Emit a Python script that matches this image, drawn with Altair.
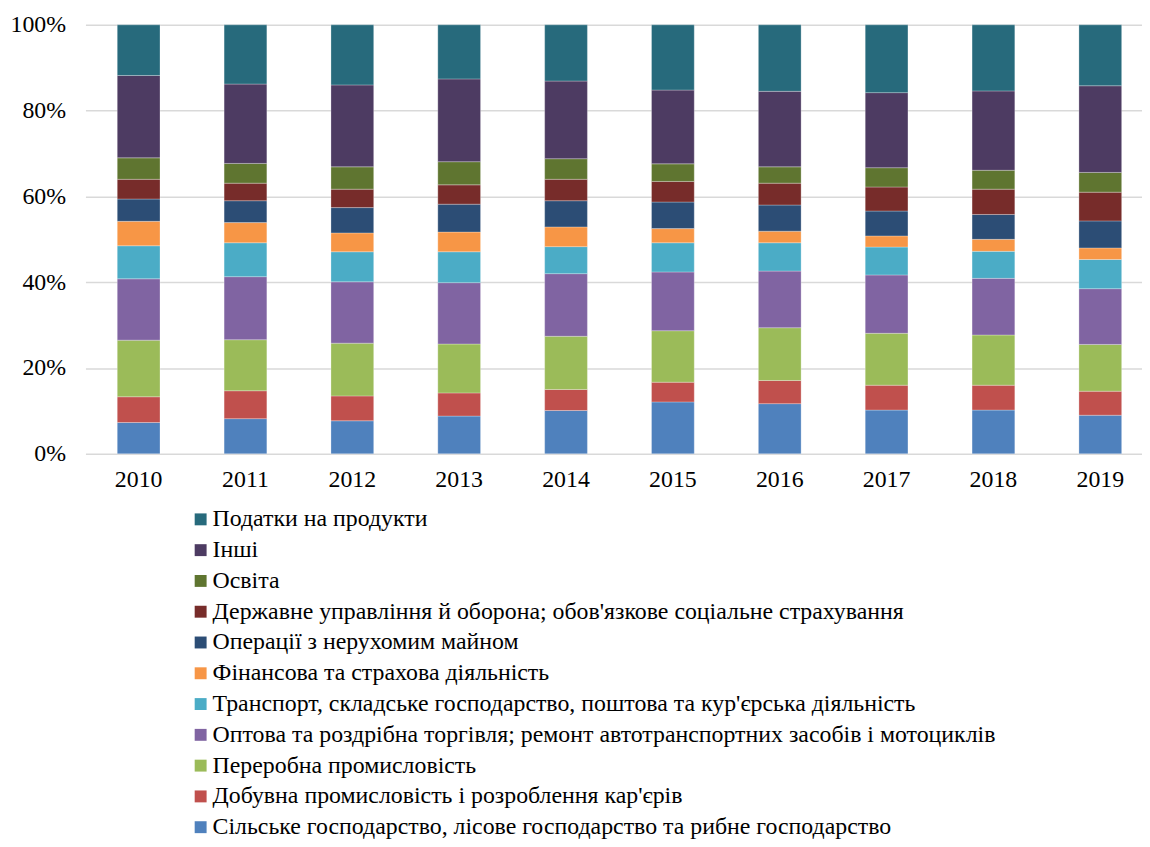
import altair as alt
import pandas as pd

years = ["2010", "2011", "2012", "2013", "2014", "2015", "2016", "2017", "2018", "2019"]

# stacking order: bottom -> top
categories = [
    "Сільське господарство, лісове господарство та рибне господарство",
    "Добувна промисловість і розроблення кар'єрів",
    "Переробна промисловість",
    "Оптова та роздрібна торгівля; ремонт автотранспортних засобів і мотоциклів",
    "Транспорт, складське господарство, поштова та кур'єрська  діяльність",
    "Фінансова та страхова діяльність",
    "Операції з нерухомим майном",
    "Державне управління й оборона; обов'язкове соціальне страхування",
    "Освіта",
    "Інші",
    "Податки на продукти",
]

colors = ["#4F81BD", "#C0504D", "#9BBB59", "#8064A2", "#4BACC6", "#F79646",
          "#2C4D75", "#772C2A", "#5F7530", "#4D3B62", "#276A7C"]

# shares (%) per category, one value per year 2010..2019
agri      = [7.3, 8.2, 7.7, 8.8, 10.1, 12.1, 11.7, 10.2, 10.2, 9.0]
mining    = [6.0, 6.5, 5.8, 5.4, 4.9, 4.6, 5.4, 5.8, 5.8, 5.6]
manuf     = [13.2, 11.9, 12.3, 11.4, 12.4, 12.0, 12.3, 12.1, 11.7, 10.9]
trade     = [14.3, 14.7, 14.3, 14.3, 14.6, 13.7, 13.2, 13.6, 13.2, 13.0]
transport = [7.7, 7.9, 7.0, 7.2, 6.3, 6.8, 6.6, 6.5, 6.3, 6.8]
finance   = [5.7, 4.7, 4.4, 4.6, 4.6, 3.3, 2.7, 2.6, 2.8, 2.7]
realty    = [5.2, 5.1, 5.9, 6.5, 6.1, 6.2, 6.1, 5.8, 5.8, 6.3]
govern    = [4.6, 4.1, 4.3, 4.5, 5.0, 4.8, 5.1, 5.6, 5.9, 6.7]
educ      = [5.0, 4.6, 5.2, 5.4, 4.8, 4.1, 3.8, 4.5, 4.4, 4.6]
other     = [19.2, 18.5, 19.1, 19.3, 18.1, 17.2, 17.6, 17.5, 18.5, 20.2]
taxes     = [11.8, 13.8, 14.0, 12.6, 13.1, 15.2, 15.5, 15.8, 15.4, 14.2]

series = [agri, mining, manuf, trade, transport, finance, realty, govern, educ, other, taxes]

rows = []
for i, (cat, vals) in enumerate(zip(categories, series)):
    for y, v in zip(years, vals):
        rows.append({"year": y, "category": cat, "value": v, "idx": i})
df = pd.DataFrame(rows)

legend_order = categories[::-1]
legend_colors = colors[::-1]

FONT = "Liberation Serif, Times New Roman, DejaVu Serif, serif"

chart = alt.Chart(df).mark_bar(
    stroke="#ffffff", strokeOpacity=0.35, strokeWidth=0.8
).encode(
    x=alt.X("year:N", sort=years,
            scale=alt.Scale(paddingInner=0.6, paddingOuter=0.244, align=0.61),
            axis=alt.Axis(title=None, labelAngle=0, ticks=False, domain=False,
                          labelFont=FONT, labelFontSize=24, labelColor="#000000",
                          labelPadding=14)),
    y=alt.Y("value:Q", stack="normalize",
            scale=alt.Scale(domain=[0, 1]),
            axis=alt.Axis(title=None, format=".0%", values=[0, 0.2, 0.4, 0.6, 0.8, 1.0],
                          ticks=False, domain=False, grid=True,
                          gridColor="#D9D9D9", gridWidth=1.5,
                          labelFont=FONT, labelFontSize=24, labelColor="#000000",
                          labelPadding=20)),
    color=alt.Color("category:N",
                    scale=alt.Scale(domain=legend_order, range=legend_colors),
                    legend=alt.Legend(title=None, orient="none", legendX=104, legendY=486,
                                      direction="vertical", symbolType="square",
                                      symbolSize=144, symbolStrokeWidth=0,
                                      labelFont=FONT, labelFontSize=24, labelColor="#000000",
                                      labelOffset=0, rowPadding=7, padding=0,
                                      labelLimit=1000)),
    order=alt.Order("idx:Q", sort="ascending"),
).properties(
    width=1064, height=432,
    autosize=alt.AutoSizeParams(type="none"),
    padding={"left": 78, "top": 14, "right": 0, "bottom": 396},
).configure_view(stroke=None)

chart.save("out.html", embed_options={"renderer": "svg", "actions": False})
